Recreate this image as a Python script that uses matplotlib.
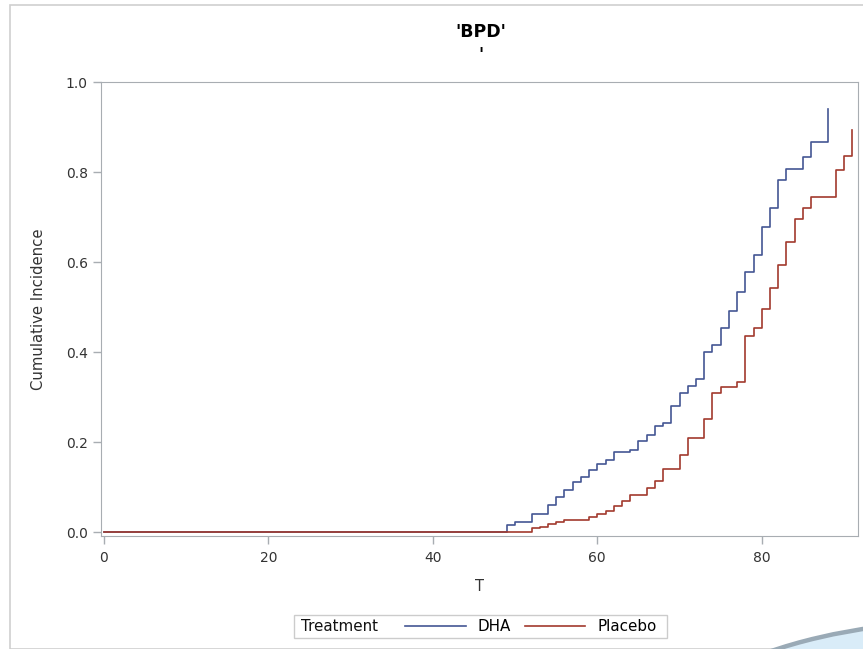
import numpy as np
import matplotlib.pyplot as plt
from matplotlib.patches import Rectangle, Ellipse

# 累积发生率曲线数据
dha_t = [0, 49, 50, 52, 54, 55, 56, 57, 58, 59, 60, 61, 62, 64, 65, 66, 67, 68,
         69, 70, 71, 72, 73, 74, 75, 76, 77, 78, 79, 80, 81, 82, 83, 85, 86, 88]
dha_ci = [0, 0.016, 0.022, 0.040, 0.061, 0.078, 0.095, 0.111, 0.124, 0.138,
          0.151, 0.160, 0.178, 0.184, 0.202, 0.217, 0.237, 0.243, 0.280, 0.309,
          0.325, 0.341, 0.400, 0.417, 0.454, 0.492, 0.534, 0.579, 0.615, 0.678,
          0.720, 0.783, 0.807, 0.834, 0.867, 0.940]

plc_t = [0, 52, 53, 54, 55, 56, 59, 60, 61, 62, 63, 64, 66, 67, 68, 70, 71, 73,
         74, 75, 77, 78, 79, 80, 81, 82, 83, 84, 85, 86, 89, 90, 91]
plc_ci = [0, 0.009, 0.013, 0.018, 0.023, 0.027, 0.034, 0.040, 0.047, 0.058,
          0.069, 0.084, 0.099, 0.114, 0.140, 0.171, 0.210, 0.252, 0.310, 0.322,
          0.333, 0.437, 0.453, 0.495, 0.543, 0.594, 0.645, 0.696, 0.720, 0.744,
          0.805, 0.835, 0.894]

xticks = [0, 20, 40, 60, 80]
yticks = [0.0, 0.2, 0.4, 0.6, 0.8, 1.0]

blue = '#445694'
red = '#a23a2e'
grey = '#a8adb2'
txt = '#333333'

W, H = 863, 649
fig = plt.figure(figsize=(W / 100, H / 100), dpi=100)

# 外框和右下角的装饰椭圆
fig.patches.append(Rectangle((10 / W, 0), 1, 1 - 5 / H, transform=fig.transFigure,
                             fill=False, edgecolor='#cfcfcf', lw=1.2))
fig.patches.append(Ellipse((970 / W, 1 - 760 / H), 640 / W, 278 / H,
                           transform=fig.transFigure, facecolor='#d9ecf8',
                           edgecolor='#9aaab6', lw=3.2))

ax = fig.add_axes([101 / W, 1 - 536 / H, 757 / W, 454 / H])
ax.step(dha_t, dha_ci, where='post', color=blue, lw=1.2, label='DHA')
ax.step(plc_t, plc_ci, where='post', color=red, lw=1.2, label='Placebo')

ax.set_xlim(-0.35, 91.7)
ax.set_ylim(-0.008, 1.0)
ax.set_xticks(xticks)
ax.set_xticklabels([str(v) for v in xticks])
ax.set_yticks(yticks)
ax.set_yticklabels(['%.1f' % v for v in yticks])
for s in ax.spines.values():
    s.set_color(grey)
ax.tick_params(colors=grey, labelcolor=txt, labelsize=10, length=6, width=1)
ax.tick_params(axis='x', pad=5)
ax.set_xlabel('T', fontsize=10.5, color=txt, labelpad=10)
ax.set_ylabel('Cumulative Incidence', fontsize=10.7, color=txt, labelpad=14)

fig.text(481 / W, 1 - 32 / H, "'BPD'", ha='center', va='center',
         fontsize=12.5, fontweight='bold')
fig.text(481 / W, 1 - 55 / H, "'", ha='center', va='center',
         fontsize=12, fontweight='bold')

# 图例：左边是 Treatment 标题
fig.patches.append(Rectangle((294 / W, 1 - 638 / H), 373 / W, 23 / H,
                             transform=fig.transFigure, facecolor='white',
                             edgecolor='#cccccc', lw=1))
fig.text(301 / W, 1 - 626.5 / H, 'Treatment', ha='left', va='center',
         fontsize=10.9, color='#111111')
h, l = ax.get_legend_handles_labels()
fig.legend(h, l, loc='center left', bbox_to_anchor=(405 / W, 1 - 626.5 / H),
           ncol=2, frameon=False, fontsize=10.9, handlelength=4,
           handletextpad=0.8, columnspacing=0.9, borderpad=0, borderaxespad=0)

fig.savefig('out.png', dpi=100)
